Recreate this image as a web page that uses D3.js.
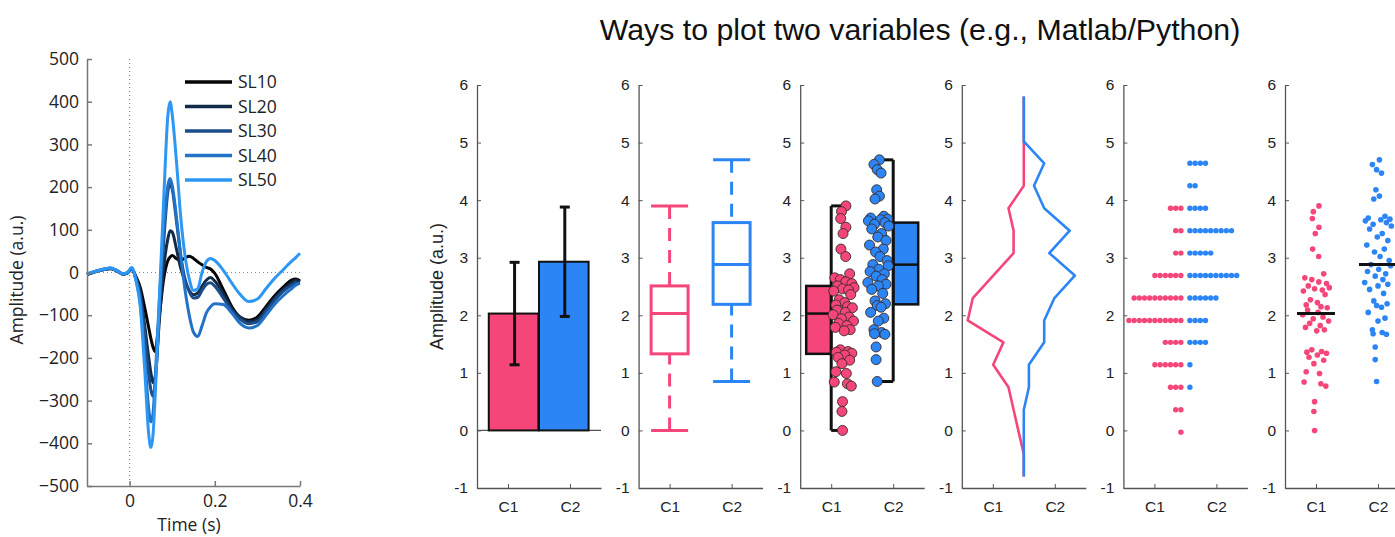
<!DOCTYPE html>
<html>
<head>
<meta charset="utf-8">
<script src="https://cdn.jsdelivr.net/npm/d3@7"></script>
<style>
    body { margin: 0; background: #fff; }
    svg { display: block; }
    .erp text { font-family: "Open Sans", sans-serif; fill: #222; }
    .pan text { font-family: "Liberation Sans", Arial, sans-serif; fill: #222; }
</style>
</head>
<body>
<svg id="chart" width="1395" height="537"></svg>
<script>
// ---- left: ERP waveforms ----
let erp_time = [-0.1, -0.08, -0.06, -0.045, -0.03, -0.015, -0.005, 0.005, 0.015, 0.025, 0.035, 0.045,
    0.05, 0.055, 0.06, 0.07, 0.08, 0.09, 0.095, 0.1, 0.11, 0.12, 0.13, 0.14, 0.15, 0.16, 0.17,
    0.18, 0.19, 0.2, 0.22, 0.24, 0.26, 0.28, 0.3, 0.32, 0.34, 0.36, 0.38, 0.39, 0.4];
let sl10 = [-5, 2, 7, 9, 4, -4, -1, 7, -10, -35, -80, -130, -155, -175, -185, -100, -15, 28, 36, 40, 32, 28,
    34, 38, 33, 25, 18, 12, 8, -2, -40, -80, -105, -112, -104, -80, -55, -35, -18, -15, -20];
let sl20 = [-5, 2, 7, 10, 4, -4, -1, 8, -12, -45, -120, -200, -235, -258, -245, -110, 10, 80, 98, 95, 55, 10,
    -20, -42, -52, -48, -32, -18, -12, -20, -50, -85, -105, -115, -110, -86, -60, -40, -24, -18, -22];
let sl30 = [-4, 3, 8, 10, 5, -3, 0, 9, -15, -55, -140, -240, -275, -290, -260, -90, 70, 190, 210, 195, 120, 40,
    -15, -45, -60, -58, -42, -28, -24, -32, -60, -90, -110, -120, -115, -92, -66, -45, -30, -25, -25];
let sl40 = [-4, 2, 7, 10, 4, -4, -1, 10, -18, -70, -190, -320, -350, -330, -250, -60, 100, 205, 220, 205, 130, 40,
    -40, -100, -140, -150, -125, -95, -80, -73, -75, -95, -120, -130, -124, -100, -75, -55, -38, -30, -25];
let sl50 = [-3, 3, 8, 11, 5, -3, 0, 12, -20, -80, -220, -380, -410, -380, -290, -60, 170, 370, 400, 370, 260, 130,
    40, -15, -42, -38, 0, 25, 33, 28, 5, -25, -52, -68, -62, -38, -14, 6, 26, 35, 45];
let sl_names = ['SL10', 'SL20', 'SL30', 'SL40', 'SL50'];
let erp_xticks = [0, 0.2, 0.4];
let erp_yticks = [-500, -400, -300, -200, -100, 0, 100, 200, 300, 400, 500];

// ---- right: two conditions ----
let groups = ['C1', 'C2'];
let panel_yticks = [-1, 0, 1, 2, 3, 4, 5, 6];
let c1_vals = [3.90, 3.80, 3.68, 3.53, 3.42, 3.15, 3.02, 2.72, 2.65, 2.62, 2.58, 2.55, 2.51,
    2.48, 2.46, 2.44, 2.42, 2.36, 2.27, 2.22, 2.18, 2.15, 2.13,
    2.09, 2.05, 2.01, 1.97, 1.94, 1.90, 1.86, 1.82, 1.79, 1.75, 1.73,
    1.40, 1.37, 1.36, 1.34, 1.31, 1.27, 1.22, 1.16, 1.02, 0.99, 0.84, 0.81, 0.77, 0.50, 0.33, 0.00];
let c2_vals = [4.70, 4.62, 4.53, 4.47, 4.18, 4.07, 4.02, 3.72, 3.69, 3.67,
    3.66, 3.64, 3.61, 3.58, 3.55, 3.50, 3.42, 3.36, 3.30, 3.22, 3.15, 3.10, 3.02, 2.95,
    2.88, 2.86, 2.80, 2.76, 2.72, 2.68, 2.62, 2.57, 2.54, 2.51, 2.45, 2.38, 2.25, 2.20, 2.17, 2.14,
    2.05, 1.95, 1.90, 1.75, 1.70, 1.68, 1.67, 1.45, 1.23, 0.85];
// horizontal jitter for the scatter panels (-1..1)
let c1_jit = [0.21, -0.19, -0.26, 0.21, -0.05, -0.24, 0.19, 0.55, -0.8, -0.3, 0.2, 0.75, -0.55,
    0.95, -0.1, 0.45, -0.9, 0.65, -0.4, 0.1, -0.7, 0.35, 0.8,
    -0.6, 0.15, -0.95, 0.5, -0.2, 0.9, -0.45, 0.3, -0.75, 0.6, 0.05,
    -0.3, 0.4, -0.65, 0.75, 0.1, -0.5, 0.55, -0.15, -0.7, 0.25, -0.85, 0.35, 0.7, -0.1, -0.15, -0.1];
let c2_jit = [0.1, -0.4, -0.1, 0.25, -0.15, 0.1, -0.3, 0.5, -0.7, 0.85,
    0.2, -0.9, 0.6, -0.35, 0.95, -0.6, 0.3, -0.05, 0.7, -0.8, 0.45, -0.25, 0.15, 0.8,
    -0.5, 0.9, 0.05, -0.75, 0.55, -0.2, 0.35, -0.95, 0.7, 0.0, -0.6, 0.4, -0.3, 0.65, -0.1, 0.25,
    -0.7, 0.5, 0.0, -0.4, 0.3, -0.35, 0.6, -0.2, -0.2, -0.1];
let bar_mean = [2.03, 2.93];
let bar_err = [0.89, 0.95];
let box_min = [0.00, 0.85];
let box_q1 = [1.33, 2.19];
let box_med = [2.03, 2.88];
let box_q3 = [2.51, 3.61];
let box_max = [3.90, 4.70];
let bin_centers = [-0.80, -0.41, -0.03, 0.36, 0.75, 1.14, 1.53, 1.91, 2.30, 2.69, 3.08, 3.47, 3.86, 4.25, 4.64, 5.02, 5.41, 5.80];
let c1_counts = [0, 0, 1, 2, 3, 6, 4, 11, 10, 6, 2, 2, 3, 0, 0, 0, 0, 0];
let c2_counts = [0, 0, 0, 0, 1, 1, 4, 4, 6, 10, 5, 9, 4, 2, 4, 0, 0, 0];

let pink = '#f5467a';
let blue = '#2b85f4';
let sl_cols = ['#050505', '#112b4a', '#1c4d88', '#2272c8', '#2d97f3'];

let svg = d3.select('#chart');

// ================= ERP plot =================
let ex = d3.scaleLinear().domain([-0.1, 0.4]).range([87, 300]);
let ey = d3.scaleLinear().domain([-500, 500]).range([486, 59]);
let eg = svg.append('g').attr('class', 'erp');

eg.append('line')
    .attr('x1', ex(0)).attr('x2', ex(0))
    .attr('y1', ey(500)).attr('y2', ey(-500))
    .attr('stroke', '#888').attr('stroke-width', 1.2).attr('stroke-dasharray', '1,3');
eg.append('line')
    .attr('x1', ex(-0.1)).attr('x2', ex(0.4))
    .attr('y1', ey(0)).attr('y2', ey(0))
    .attr('stroke', '#888').attr('stroke-width', 1.2).attr('stroke-dasharray', '1,3');

let sl_data = [sl10, sl20, sl30, sl40, sl50];
let erp_line = d3.line()
    .x((d, i) => ex(erp_time[i]))
    .y(d => ey(d))
    .curve(d3.curveMonotoneX);

eg.selectAll('path.wave')
    .data(sl_data)
    .enter()
    .append('path')
    .attr('class', 'wave')
    .attr('d', erp_line)
    .attr('fill', 'none')
    .attr('stroke', (d, i) => sl_cols[i])
    .attr('stroke-width', 3)
    .attr('stroke-linejoin', 'round');

let exa = eg.append('g')
    .attr('transform', 'translate(0,' + ey(-500) + ')')
    .call(d3.axisBottom(ex).tickValues(erp_xticks).tickSize(-5).tickSizeOuter(0).tickPadding(9)
        .tickFormat(d => d === 0 ? '0' : d3.format('.1f')(d)));
let eya = eg.append('g')
    .attr('transform', 'translate(' + ex(-0.1) + ',0)')
    .call(d3.axisLeft(ey).tickValues(erp_yticks).tickSize(-5).tickSizeOuter(0).tickPadding(8)
        .tickFormat(d3.format('d')));
[exa, eya].forEach(a => {
    a.select('.domain').attr('stroke', '#777').attr('stroke-width', 1.5);
    a.selectAll('.tick line').attr('stroke', '#777').attr('stroke-width', 1.5);
    a.selectAll('.tick text').style('font-size', '17.5px').attr('fill', '#222');
});

eg.append('text')
    .attr('transform', 'translate(23,280) rotate(-90)')
    .attr('text-anchor', 'middle')
    .style('font-size', '17.5px')
    .text('Amplitude (a.u.)');
eg.append('text')
    .attr('x', 189).attr('y', 531)
    .attr('text-anchor', 'middle')
    .style('font-size', '17.5px')
    .text('Time (s)');

// legend
let lg = eg.append('g').attr('class', 'legend');
sl_names.forEach((nm, i) => {
    let ly = 82 + i * 24.5;
    lg.append('line')
        .attr('x1', 185).attr('x2', 232).attr('y1', ly).attr('y2', ly)
        .attr('stroke', sl_cols[i]).attr('stroke-width', 3.5);
    lg.append('text')
        .attr('x', 238).attr('y', ly + 6)
        .style('font-size', '17.5px')
        .text(nm);
});

// ================= six small panels =================
svg.append('text')
    .attr('class', 'pan')
    .attr('x', 920).attr('y', 40)
    .attr('text-anchor', 'middle')
    .style('font-family', '"Liberation Sans", Arial, sans-serif')
    .style('font-size', '30.3px')
    .attr('fill', '#111')
    .text('Ways to plot two variables (e.g., Matlab/Python)');

function make_panel(i) {
    let g = svg.append('g')
        .attr('class', 'pan')
        .attr('transform', 'translate(' + (477 + i * 161.6) + ',85)');
    let x = d3.scaleLinear().domain([0.5, 2.5]).range([0, 124]);
    let y = d3.scaleLinear().domain([-1, 6]).range([403, 0]);

    let ya = g.append('g')
        .call(d3.axisLeft(y).tickValues(panel_yticks).tickSize(-4).tickSizeOuter(0).tickPadding(9)
            .tickFormat(d => String(d)));
    let xa = g.append('g')
        .attr('transform', 'translate(0,' + y(-1) + ')')
        .call(d3.axisBottom(x).tickValues([1, 2]).tickSize(-4).tickSizeOuter(0).tickPadding(13)
            .tickFormat((d, k) => groups[k]));
    [xa, ya].forEach(a => {
        a.select('.domain').attr('stroke', '#555').attr('stroke-width', 1.3);
        a.selectAll('.tick line').attr('stroke', '#555').attr('stroke-width', 1);
        a.selectAll('.tick text').style('font-size', '15.5px').attr('fill', '#222');
    });
    return {g: g, x: x, y: y};
}

let cols = [pink, blue];
let vals = [c1_vals, c2_vals];
let jits = [c1_jit, c2_jit];

// 1. bar + error bar
(function () {
    let p = make_panel(0);
    let bar_pos = [1.09, 1.9];
    p.g.append('line')
        .attr('x1', 0).attr('x2', p.x(2.5)).attr('y1', p.y(0)).attr('y2', p.y(0))
        .attr('stroke', '#555').attr('stroke-width', 1.3);
    p.g.selectAll('rect.bar')
        .data(bar_mean)
        .enter()
        .append('rect')
        .attr('class', 'bar')
        .attr('x', (d, i) => p.x(bar_pos[i] - 0.4))
        .attr('width', p.x(0.8) - p.x(0))
        .attr('y', d => p.y(d))
        .attr('height', d => p.y(0) - p.y(d))
        .attr('fill', (d, i) => cols[i])
        .attr('stroke', '#111').attr('stroke-width', 2);
    bar_mean.forEach((m, i) => {
        let cx = p.x(bar_pos[i]) + 1;
        p.g.append('line')
            .attr('x1', cx).attr('x2', cx)
            .attr('y1', p.y(m - bar_err[i])).attr('y2', p.y(m + bar_err[i]))
            .attr('stroke', '#111').attr('stroke-width', 3);
        [m - bar_err[i], m + bar_err[i]].forEach(v => {
            p.g.append('line')
                .attr('x1', cx - 5).attr('x2', cx + 5).attr('y1', p.y(v)).attr('y2', p.y(v))
                .attr('stroke', '#111').attr('stroke-width', 3);
        });
    });
    p.g.append('text')
        .attr('transform', 'translate(-34,' + p.y(2.5) + ') rotate(-90)')
        .attr('text-anchor', 'middle')
        .style('font-size', '18px')
        .text('Amplitude (a.u.)');
})();

// 2. box plot
(function () {
    let p = make_panel(1);
    let bw = 37;
    groups.forEach((gname, i) => {
        let cx = p.x(i + 1);
        let c = cols[i];
        let bx = p.g.append('g');
        bx.append('line').attr('x1', cx).attr('x2', cx)
            .attr('y1', p.y(box_min[i])).attr('y2', p.y(box_q1[i]))
            .attr('stroke', c).attr('stroke-width', 3).attr('stroke-dasharray', '13,9');
        bx.append('line').attr('x1', cx).attr('x2', cx)
            .attr('y1', p.y(box_max[i])).attr('y2', p.y(box_q3[i]))
            .attr('stroke', c).attr('stroke-width', 3).attr('stroke-dasharray', '13,9');
        [box_min[i], box_max[i], box_med[i]].forEach(v => {
            bx.append('line').attr('x1', cx - bw / 2).attr('x2', cx + bw / 2)
                .attr('y1', p.y(v)).attr('y2', p.y(v))
                .attr('stroke', c).attr('stroke-width', 3);
        });
        bx.append('rect')
            .attr('x', cx - bw / 2).attr('width', bw)
            .attr('y', p.y(box_q3[i])).attr('height', p.y(box_q1[i]) - p.y(box_q3[i]))
            .attr('fill', 'none').attr('stroke', c).attr('stroke-width', 3);
    });
})();

// 3. half box + scatter (raincloud-like)
(function () {
    let p = make_panel(2);
    let side = [-1, 1];
    let dot_pos = [1.2, 1.76];
    groups.forEach((gname, i) => {
        let cx = p.x(i + 1);
        let s = side[i];
        let bw = 25;
        let bx = p.g.append('g');
        let bl = Math.min(cx, cx + s * bw);
        bx.append('rect')
            .attr('x', bl).attr('width', bw)
            .attr('y', p.y(box_q3[i])).attr('height', p.y(box_q1[i]) - p.y(box_q3[i]))
            .attr('fill', cols[i]).attr('stroke', '#111').attr('stroke-width', 2.5);
        bx.append('line').attr('x1', bl).attr('x2', bl + bw)
            .attr('y1', p.y(box_med[i])).attr('y2', p.y(box_med[i]))
            .attr('stroke', '#111').attr('stroke-width', 2.5);
        bx.append('line').attr('x1', cx).attr('x2', cx)
            .attr('y1', p.y(box_min[i])).attr('y2', p.y(box_max[i]))
            .attr('stroke', '#111').attr('stroke-width', 3);
        [box_min[i], box_max[i]].forEach(v => {
            bx.append('line').attr('x1', cx).attr('x2', cx - s * 13)
                .attr('y1', p.y(v)).attr('y2', p.y(v))
                .attr('stroke', '#111').attr('stroke-width', 3);
        });
        p.g.append('g').selectAll('circle')
            .data(vals[i])
            .enter()
            .append('circle')
            .attr('cx', (d, k) => p.x(dot_pos[i]) + jits[i][k] * 11)
            .attr('cy', d => p.y(d))
            .attr('r', 5)
            .attr('fill', cols[i])
            .attr('stroke', '#3a2a2a').attr('stroke-width', 0.9);
    });
})();

// 4. histogram outline (mirrored)
(function () {
    let p = make_panel(3);
    let step = 5.1;
    let mid = p.x(1.5);
    let counts = [c1_counts, c2_counts];
    let side = [-1, 1];
    counts.forEach((cnt, i) => {
        let ln = d3.line()
            .x((d, k) => mid + side[i] * d * step)
            .y((d, k) => p.y(bin_centers[k]));
        p.g.append('path')
            .attr('d', ln(cnt))
            .attr('fill', 'none')
            .attr('stroke', cols[i])
            .attr('stroke-width', 2.6)
            .attr('stroke-linejoin', 'round');
    });
})();

// 5. binned dot plot
(function () {
    let p = make_panel(4);
    let step = 5.2;
    let mid = p.x(1.5);
    let counts = [c1_counts, c2_counts];
    let side = [-1, 1];
    counts.forEach((cnt, i) => {
        let pts = [];
        cnt.forEach((n, k) => {
            for (let j = 0; j < n; j++) pts.push([mid + side[i] * (4.5 + j * step), bin_centers[k]]);
        });
        p.g.append('g').selectAll('circle')
            .data(pts)
            .enter()
            .append('circle')
            .attr('cx', d => d[0])
            .attr('cy', d => p.y(d[1]))
            .attr('r', 2.7)
            .attr('fill', cols[i]);
    });
})();

// 6. jittered scatter + median
(function () {
    let p = make_panel(5);
    groups.forEach((gname, i) => {
        let cx = p.x(i + 1);
        p.g.append('g').selectAll('circle')
            .data(vals[i])
            .enter()
            .append('circle')
            .attr('cx', (d, k) => cx + jits[i][k] * 14)
            .attr('cy', d => p.y(d))
            .attr('r', 2.8)
            .attr('fill', cols[i]);
        p.g.append('line')
            .attr('x1', cx - 19).attr('x2', cx + 19)
            .attr('y1', p.y(box_med[i])).attr('y2', p.y(box_med[i]))
            .attr('stroke', '#111').attr('stroke-width', 3);
    });
})();
</script>
</body>
</html>
